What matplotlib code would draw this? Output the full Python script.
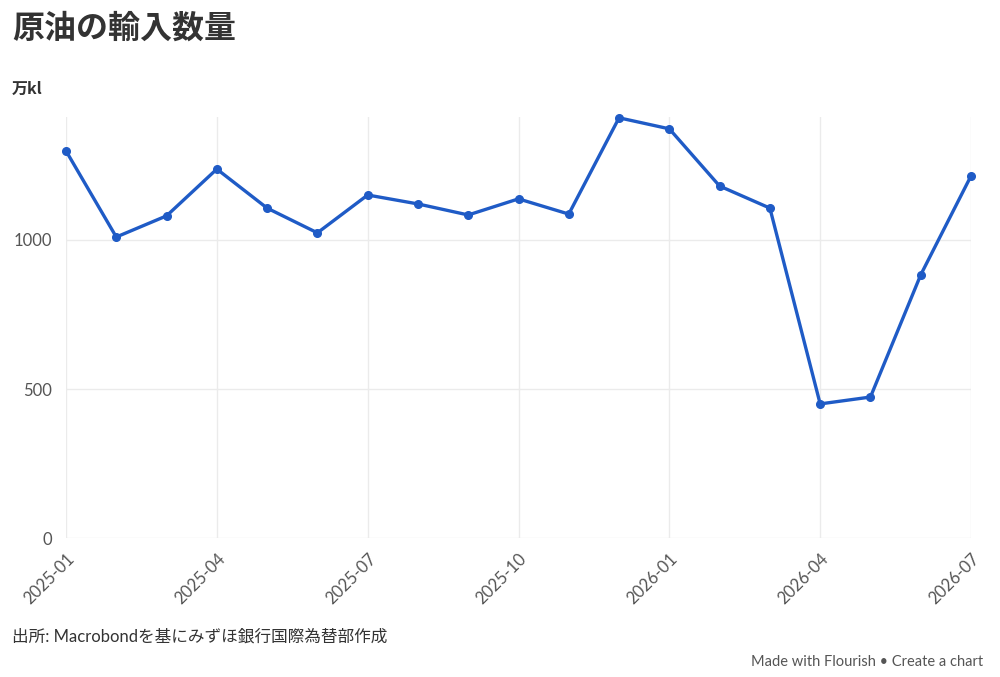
import matplotlib
matplotlib.use('Agg')
import matplotlib.pyplot as plt

plt.rcParams['font.family'] = ['Lato', 'Noto Sans CJK JP', 'DejaVu Sans']

months = ['2025-01', '2025-02', '2025-03', '2025-04', '2025-05', '2025-06',
          '2025-07', '2025-08', '2025-09', '2025-10', '2025-11', '2025-12',
          '2026-01', '2026-02', '2026-03', '2026-04', '2026-05', '2026-06',
          '2026-07']
imports = [1299, 1010, 1081, 1238, 1107, 1024, 1151, 1121, 1084, 1138,
           1087, 1410, 1373, 1181, 1107, 450, 473, 883, 1215]
tick_labels = ['2025-01', '2025-04', '2025-07', '2025-10', '2026-01', '2026-04', '2026-07']
y_ticks = [0, 500, 1000]

x = list(range(len(months)))
tick_pos = [months.index(t) for t in tick_labels]

fig = plt.figure(figsize=(10, 6.77), dpi=100)
ax = fig.add_axes([0.066, 0.2053, 0.905, 0.622])

ax.plot(x, imports, color='#1f5bc6', lw=2.4, marker='o', ms=5.5, zorder=3,
        clip_on=False)

ax.set_xlim(0, len(months) - 1)
ax.set_ylim(0, 1413)
ax.set_xticks(tick_pos)
ax.set_xticklabels(tick_labels, rotation=45, ha='right', rotation_mode='anchor',
                   fontsize=12, color='#555555')
ax.set_yticks(y_ticks)
ax.set_yticklabels([str(v) for v in y_ticks], fontsize=12, color='#555555')
ax.tick_params(length=0, pad=10)
ax.tick_params(axis='x', pad=9)
ax.grid(True, color='#ebebeb', lw=1)
for s in ax.spines.values():
    s.set_visible(False)

fig.text(0.012, 0.958, '原油の輸入数量', fontsize=23, fontweight='bold',
         color='#333333', va='center', family=['Noto Sans CJK JP'])
fig.text(0.012, 0.868, '万kl', fontsize=11.5, fontweight='bold',
         color='#333333', va='center', family=['Noto Sans CJK JP'])
fig.text(0.012, 0.06, '出所: Macrobondを基にみずほ銀行国際為替部作成', fontsize=12,
         color='#333333', va='center')
fig.text(0.983, 0.022, 'Made with Flourish • Create a chart', fontsize=10.5,
         color='#555555', va='center', ha='right')

fig.savefig('out.png', dpi=100)
